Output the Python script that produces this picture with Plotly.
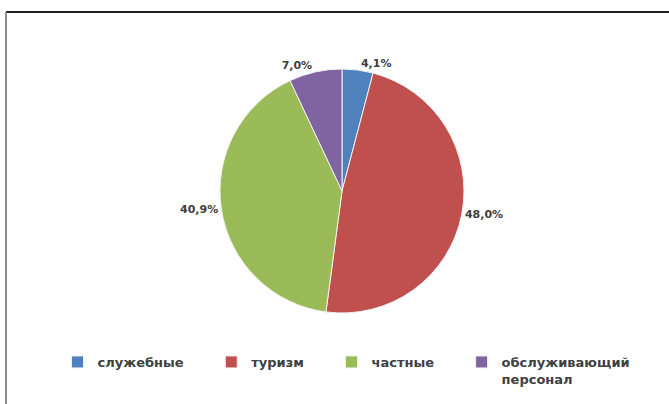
import plotly.graph_objects as go

categories = ["служебные", "туризм", "частные", "обслуживающий<br>персонал"]
values = [4.1, 48.0, 40.9, 7.0]
label_texts = ["4,1%", "48,0%", "40,9%", "7,0%"]
colors = ["#4F81BD", "#C0504D", "#9BBB59", "#8064A2"]

W, H = 669, 404
cx, cy, r = 342, 191, 122

# widen the gap after each legend entry (Excel-like spacing)
pad = "\u00a0" * 5
legend_names = [c + pad for c in categories[:-1]] + [categories[-1]]

fig = go.Figure(go.Pie(
    labels=legend_names,
    values=values,
    text=label_texts,
    texttemplate="%{text}",
    textinfo="text",
    textposition="outside",
    sort=False,
    direction="clockwise",
    rotation=0,
    marker=dict(colors=colors, line=dict(color="#F2F2F2", width=1)),
    outsidetextfont=dict(family="DejaVu Sans", size=11, color="#404040", weight="bold"),
    domain=dict(x=[(cx - r) / W, (cx + r) / W], y=[(H - cy - r) / H, (H - cy + r) / H]),
    hoverinfo="label+percent",
    showlegend=True,
))

fig.update_layout(
    width=W, height=H,
    margin=dict(l=0, r=0, t=0, b=0),
    paper_bgcolor="white",
    plot_bgcolor="white",
    showlegend=True,
    legend=dict(
        orientation="h",
        x=0.086, xanchor="left",
        y=(H - 347) / H, yanchor="top",
        font=dict(family="DejaVu Sans", size=13, color="#404040", weight="bold"),
        itemwidth=30,
        valign="top",
        traceorder="normal",
        bgcolor="rgba(0,0,0,0)",
    ),
    shapes=[
        dict(type="line", xref="paper", yref="paper",
             x0=6 / W, x1=1, y0=(H - 12) / H, y1=(H - 12) / H,
             line=dict(color="#202020", width=2)),
        dict(type="line", xref="paper", yref="paper",
             x0=6 / W, x1=6 / W, y0=0, y1=(H - 12) / H,
             line=dict(color="#8C8C8C", width=2)),
    ],
)

fig.write_html("out.html")
